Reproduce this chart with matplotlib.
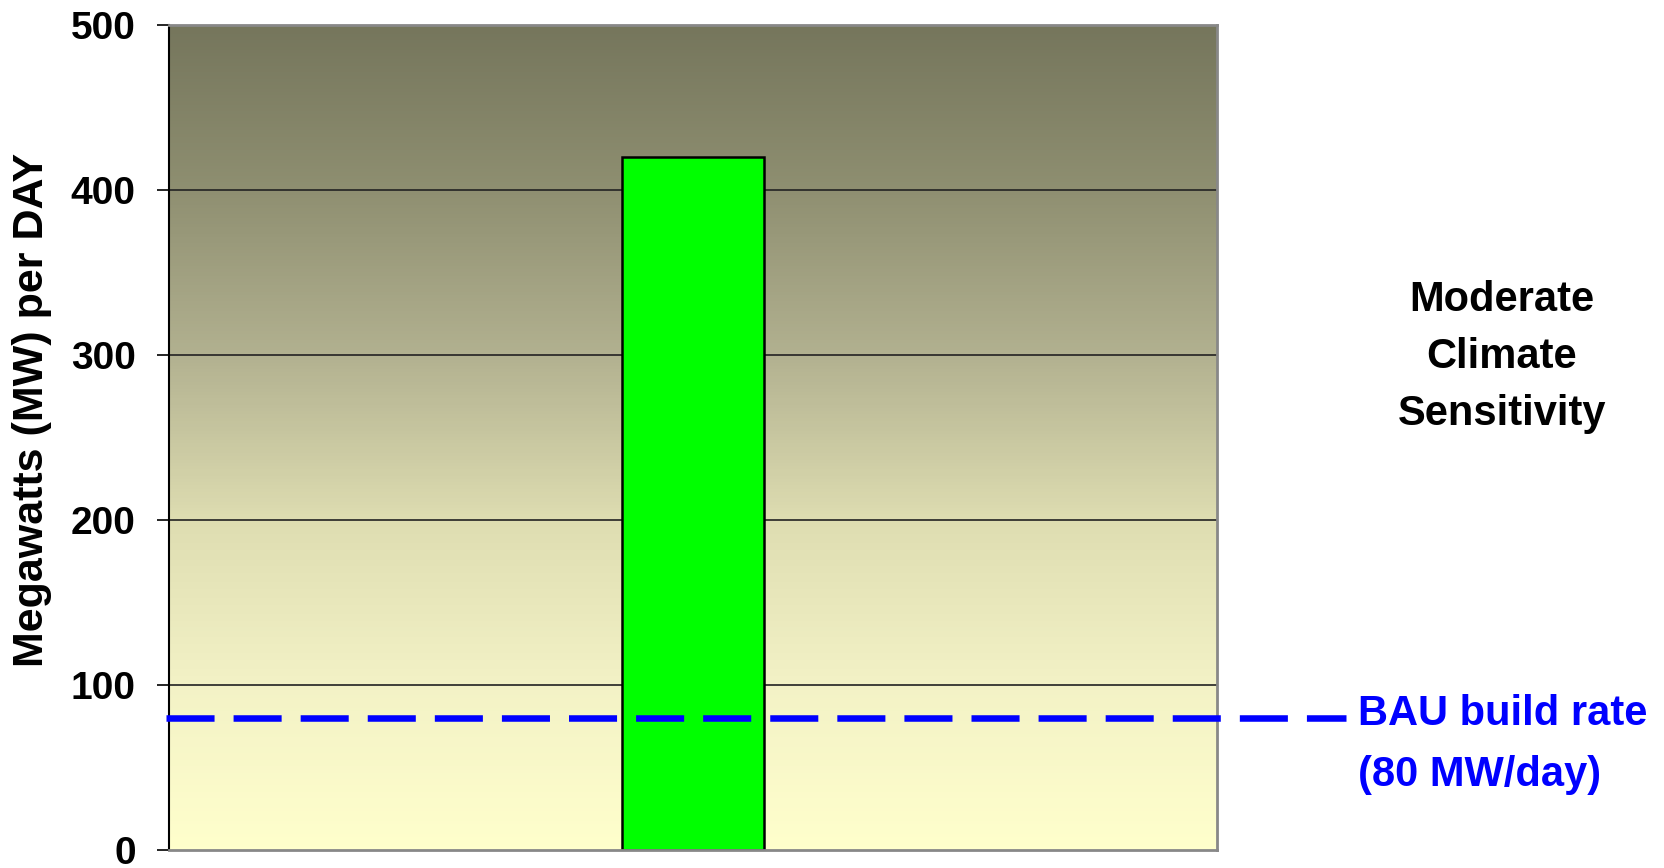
import numpy as np
import matplotlib
matplotlib.use("Agg")
import matplotlib.pyplot as plt
from matplotlib.colors import LinearSegmentedColormap

# Build rate needed vs. business-as-usual
categories = ["Moderate Climate Sensitivity"]
build_rate = [420]          # MW per day
bau_rate = 80               # MW per day
y_ticks = [0, 100, 200, 300, 400, 500]

plt.rcParams["font.family"] = ["Liberation Sans", "DejaVu Sans"]
plt.rcParams["font.weight"] = "bold"
plt.rcParams["lines.scale_dashes"] = False

fig = plt.figure(figsize=(16.65, 8.68), dpi=100)
ax = fig.add_axes([0.1015, 0.0207, 0.6295, 0.9505])

# olive-to-pale-yellow background fill
bg = LinearSegmentedColormap.from_list(
    "bg",
    [(0.0, "#FFFFCC"), (0.2, "#F3F2C6"), (0.4, "#DEDDB1"),
     (0.6, "#B2B190"), (0.8, "#8F8F71"), (1.0, "#75765C")],
)
grad = np.linspace(0, 1, 256).reshape(-1, 1)
ax.imshow(grad, cmap=bg, origin="lower", aspect="auto",
          extent=[-0.5, 0.5, 0, 500], zorder=0)

ax.set_xlim(-0.5, 0.5)
ax.set_ylim(0, 500)

# horizontal gridlines
for t in y_ticks[1:-1]:
    ax.axhline(t, color="#222222", lw=1.2, zorder=1)

x = np.arange(len(categories))
ax.bar(x, build_rate, width=0.135, color="#00FF00", edgecolor="black",
       linewidth=1.8, zorder=2)

# BAU reference line, running out past the plot to its label
ax.plot([-0.503, 0.623], [bau_rate, bau_rate], color="#0000FF", lw=4.7,
        dashes=(34.6, 13.7), clip_on=False, zorder=3)

ax.set_yticks(y_ticks)
ax.set_yticklabels([str(t) for t in y_ticks], fontsize=28, fontweight="bold")
ax.set_xticks([])
ax.tick_params(axis="y", direction="out", length=9, width=1.2, pad=15)

ax.spines["left"].set_color("black")
ax.spines["left"].set_linewidth(1.5)
for side in ["bottom", "top", "right"]:
    ax.spines[side].set_color("#888888")
    ax.spines[side].set_linewidth(2)

fig.text(32 / 1665, 1 - 410 / 868, "Megawatts (MW) per DAY", rotation=90,
         ha="center", va="center", fontsize=31, fontweight="bold")

fig.text(1358 / 1665, 1 - 714 / 868, "BAU build rate", color="#0000FF",
         ha="left", va="center", fontsize=30, fontweight="bold")
fig.text(1358 / 1665, 1 - 775 / 868, "(80 MW/day)", color="#0000FF",
         ha="left", va="center", fontsize=30, fontweight="bold")

for line, yc in zip(["Moderate", "Climate", "Sensitivity"], [300, 357, 414]):
    fig.text(1502 / 1665, 1 - yc / 868, line, ha="center", va="center",
             fontsize=30, fontweight="bold")

fig.savefig("out.png", dpi=100)
